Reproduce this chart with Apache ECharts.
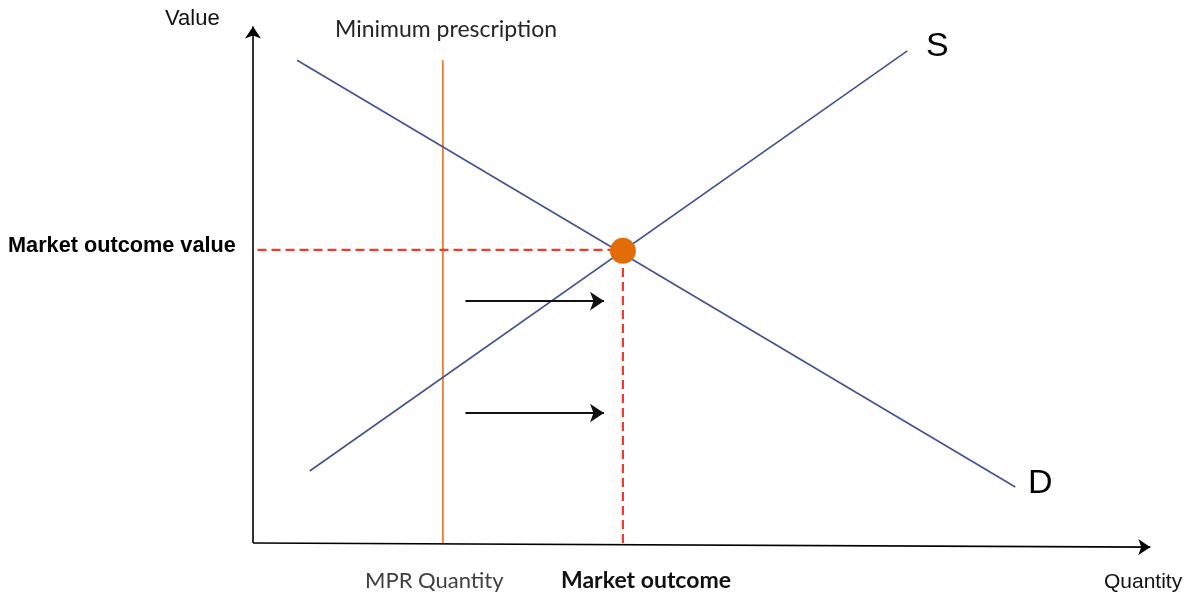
<!DOCTYPE html>
<html><head><meta charset="utf-8">
<script src="https://cdn.jsdelivr.net/npm/echarts@6/dist/echarts.min.js"></script>
<style>html,body{margin:0;padding:0;background:#fff}#c{width:1193px;height:597px}</style>
</head><body><div id="c"></div>
<script>
// Data (abstract units: quantity 0-100, value 0-100)
const demandLine = [[4.9, 93.2], [84.7, 10.8]];
const supplyLine = [[6.3, 13.9], [72.7, 95.0]];
const mprLine = [[21.1, 0], [21.1, 93.2]];
const outcomeValueLine = [[0.5, 56.6], [40.0, 56.6]];
const outcomeQuantityLine = [[41.1, 0], [41.1, 54.2]];
const equilibrium = [[41.1, 56.4]];
const shiftArrows = [[[23.6, 46.7], [39.0, 46.7]], [[23.6, 25.1], [39.0, 25.1]]];
const axisLines = [[[0, 0], [99.7, -0.8]], [[0, 0], [0, 99.7]]];
const labels = {
  value: 'Value', quantity: 'Quantity', minPres: 'Minimum prescription',
  s: 'S', d: 'D', mpr: 'MPR Quantity', outcome: 'Market outcome', outcomeValue: 'Market outcome value'
};

const chart = echarts.init(document.getElementById('c'), null, {renderer: 'canvas'});
const blue = '#41538f', orange = '#ed7d31', red = '#ee3b2b', dot = '#e36c09';
const calibri = 'Lato, "Open Sans", sans-serif';
const arial = '"Liberation Sans", Arial, sans-serif';
function txt(x, y, text, font, fill) {
  return {type: 'text', x: x, y: y, silent: true,
    style: {text: text, font: font, fill: fill, textAlign: 'left', textVerticalAlign: 'middle'}};
}
chart.setOption({
  animation: false,
  grid: {left: 253, top: 25, width: 900, height: 518},
  xAxis: {type: 'value', min: 0, max: 100, show: false},
  yAxis: {type: 'value', min: 0, max: 100, show: false},
  series: [
    {type: 'lines', coordinateSystem: 'cartesian2d', clip: false,
      symbol: ['none', 'arrow'], symbolSize: [0, 12],
      lineStyle: {color: '#000', width: 1.6, opacity: 1},
      data: axisLines.map(c => ({coords: c})), z: 3},
    {type: 'line', clip: false, data: demandLine, symbol: 'none', lineStyle: {color: blue, width: 1.6}, z: 4},
    {type: 'line', clip: false, data: supplyLine, symbol: 'none', lineStyle: {color: blue, width: 1.6}, z: 4},
    {type: 'line', clip: false, data: mprLine, symbol: 'none', lineStyle: {color: orange, width: 1.8}, z: 3},
    {type: 'line', clip: false, data: outcomeValueLine, symbol: 'none', lineStyle: {color: red, width: 2.2, type: [9, 5]}, z: 5},
    {type: 'line', clip: false, data: outcomeQuantityLine, symbol: 'none', lineStyle: {color: red, width: 2.2, type: [9, 5]}, z: 5},
    {type: 'lines', coordinateSystem: 'cartesian2d', clip: false,
      symbol: ['none', 'arrow'], symbolSize: [0, 14],
      lineStyle: {color: '#111', width: 1.8, opacity: 1},
      data: shiftArrows.map(c => ({coords: c})), z: 5},
    {type: 'scatter', clip: false, data: equilibrium, symbolSize: 26,
      itemStyle: {color: dot, opacity: 1}, z: 10}
  ],
  graphic: [
    txt(165, 19, labels.value, '22px ' + arial, '#111'),
    txt(1104, 582, labels.quantity, '21px ' + arial, '#111'),
    txt(335, 30, labels.minPres, '23px ' + calibri, '#262626'),
    txt(926, 47, labels.s, '34px ' + arial, '#000'),
    txt(1028, 484, labels.d, '34px ' + arial, '#000'),
    txt(365, 581, labels.mpr, '22px ' + calibri, '#404040'),
    txt(561, 581, labels.outcome, 'bold 23px ' + calibri, '#111'),
    txt(8, 246, labels.outcomeValue, 'bold 21.7px ' + arial, '#000')
  ]
});
</script></body></html>
